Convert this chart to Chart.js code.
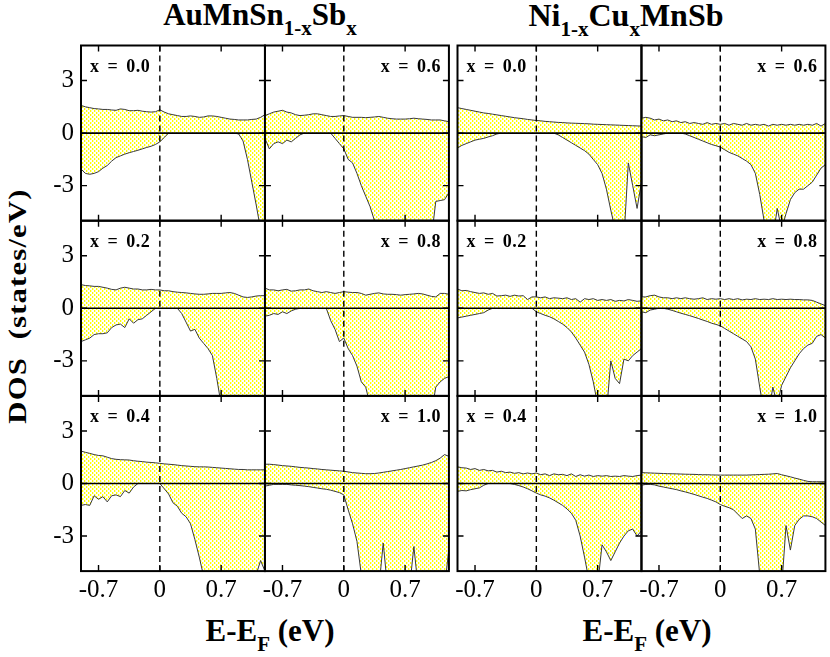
<!DOCTYPE html>
<html><head><meta charset="utf-8">
<script src="https://cdn.jsdelivr.net/npm/chart.js@4.4.0/dist/chart.umd.min.js"></script>
<style>
html,body{margin:0;padding:0;background:#fff;}
#wrap{position:relative;width:830px;height:657px;overflow:hidden;font-family:'Liberation Serif','Times New Roman',serif;color:#000;}
#wrap canvas{position:absolute;left:0;top:0;}
.t{position:absolute;font-weight:bold;white-space:nowrap;}
.title{font-size:31px;line-height:30px;width:400px;text-align:center;}
.title sub{font-size:21px;vertical-align:baseline;position:relative;top:10px;}
.big{font-size:32px;}
.lab{font-size:18px;line-height:18px;letter-spacing:0.5px;word-spacing:3px;}
.ytitle{font-size:26px;line-height:30px;width:300px;height:30px;text-align:center;letter-spacing:1px;transform:rotate(-90deg) scaleX(1.18);}
</style></head>
<body>
<div id="wrap">
  <div class="t title" style="left:60px;top:0px;">AuMnSn<sub>1-x</sub>Sb<sub>x</sub></div>
  <div class="t title big" style="left:426px;top:0px;">Ni<sub>1-x</sub>Cu<sub>x</sub>MnSb</div>
  <div class="t title" style="left:70px;top:616px;">E-E<sub>F</sub> (eV)</div>
  <div class="t title" style="left:447px;top:616px;">E-E<sub>F</sub> (eV)</div>
  <div class="t ytitle" style="left:-132px;top:291px;">DOS&nbsp;&nbsp;(states/eV)</div>
</div>
<script>
// ---- data ----
const energy = [-0.9,-0.85,-0.8,-0.75,-0.7,-0.65,-0.6,-0.55,-0.5,-0.45,-0.4,-0.35,-0.3,-0.25,-0.2,-0.15,-0.1,-0.05,0,0.05,0.1,0.15,0.2,0.25,0.3,0.35,0.4,0.45,0.5,0.55,0.6,0.65,0.7,0.75,0.8,0.85,0.9,0.95,1.0,1.05,1.1,1.15,1.2];
const xTickValues = [-0.7, 0, 0.7];
const xTickLabels = ['-0.7', '0', '0.7'];
const yTickValues = [-3, 0, 3];
const yTickLabels = ['-3', '0', '3'];
const panelLabels = ['x = 0.0','x = 0.2','x = 0.4','x = 0.6','x = 0.8','x = 1.0'];

// AuMnSn(1-x)Sb(x)
const au00Up = [1.58,1.5,1.45,1.4,1.38,1.35,1.35,1.32,1.3,1.38,1.35,1.28,1.28,1.3,1.25,1.22,1.2,1.22,1.33,1.2,1.1,1.05,1.0,0.95,0.95,0.98,0.95,0.9,0.92,0.98,0.98,0.95,0.9,0.85,0.8,0.78,0.75,0.75,0.75,0.78,0.8,0.9,1.05];
const au00Dn = [-2.05,-2.3,-2.35,-2.3,-2.2,-2.0,-1.85,-1.6,-1.4,-1.3,-1.2,-1.12,-1.05,-0.98,-0.9,-0.82,-0.75,-0.65,-0.5,-0.25,0,0,0,0,0,0,0,0,0,0,0,0,0,0,0,0,-0.05,-0.45,-1.5,-2.8,-4.1,-5.5,-6];
const au02Up = [1.35,1.3,1.28,1.25,1.25,1.2,1.15,1.08,1.05,1.15,1.2,1.15,1.1,1.1,1.05,1.05,1.08,1.05,1.05,1.0,1.0,0.95,0.92,0.9,0.88,0.85,0.82,0.8,0.8,0.82,0.85,0.85,0.85,0.88,0.9,0.85,0.75,0.65,0.62,0.65,0.7,0.72,0.72];
const au02Dn = [-1.9,-1.8,-1.7,-1.5,-1.45,-1.45,-1.4,-1.1,-0.95,-0.9,-1.1,-0.6,-0.85,-0.65,-0.6,-0.4,-0.2,0,0,0,0,0,0,-0.3,-0.8,-1.3,-1.2,-1.7,-2.0,-2.3,-2.7,-4.0,-5.5,-6,-6,-6,-6,-6,-6,-6,-6,-6,-6];
const au04Up = [1.85,1.78,1.72,1.65,1.6,1.58,1.5,1.42,1.38,1.36,1.35,1.34,1.3,1.27,1.25,1.22,1.2,1.18,1.15,1.12,1.1,1.08,1.05,1.02,1.0,0.98,0.96,0.95,0.95,0.94,0.92,0.9,0.88,0.86,0.84,0.82,0.8,0.8,0.78,0.78,0.78,0.78,0.78];
const au04Dn = [-1.25,-1.2,-1.25,-0.7,-0.9,-0.75,-1.05,-0.7,-0.65,-0.75,-0.4,-0.55,-0.2,0,0,0,0,0,0,-0.3,-0.6,-1.1,-1.3,-1.7,-1.9,-2.3,-3.2,-4.2,-5.3,-6,-6,-6,-6,-6,-6,-6,-6,-6,-6,-6,-5.2,-4.4,-5.0];
const au06Up = [1.0,1.1,1.2,1.25,1.3,1.2,1.15,1.05,1.0,1.02,1.05,1.1,1.1,1.05,1.0,0.95,0.95,0.98,1.0,0.95,0.9,0.9,0.9,0.88,0.9,0.92,0.95,0.9,0.85,0.82,0.8,0.8,0.8,0.82,0.85,0.82,0.8,0.78,0.75,0.75,0.75,0.7,0.65];
const au06Dn = [-0.3,-0.9,-0.6,-0.5,-0.6,-0.4,-0.5,-0.3,-0.1,0,0,0,0,0,0,0,-0.3,-0.6,-0.9,-1.5,-1.7,-2.3,-3.0,-3.6,-4.2,-5.0,-6,-6,-6,-6,-6,-6,-6,-6,-6,-6,-6,-6,-6,-3.9,-3.85,-3.8,-3.4];
const au08Up = [1.15,1.05,1.05,1.0,1.05,1.08,0.98,1.0,1.05,1.05,1.1,1.0,0.95,0.9,0.95,0.9,0.85,0.9,0.95,0.92,0.9,0.9,0.85,0.75,0.8,0.85,0.88,0.82,0.8,0.8,0.78,0.75,0.78,0.8,0.82,0.85,0.82,0.75,0.68,0.65,0.85,0.85,0.8];
const au08Dn = [-0.45,-0.4,-0.3,-0.35,-0.2,-0.3,-0.15,-0.05,0,0,0,0,0,0,0,-0.7,-1.2,-1.9,-1.7,-2.3,-2.7,-3.3,-4.2,-4.5,-5.5,-6,-6,-6,-6,-6,-6,-6,-6,-6,-6,-6,-6,-6,-6,-4.5,-4.2,-4.0,-3.9];
const au10Up = [1.1,1.1,1.08,1.05,1.02,1.0,0.98,0.95,0.92,0.9,0.88,0.85,0.83,0.8,0.78,0.76,0.74,0.72,0.7,0.66,0.62,0.6,0.58,0.56,0.56,0.57,0.6,0.64,0.68,0.72,0.76,0.8,0.85,0.9,0.95,1.0,1.05,1.12,1.2,1.3,1.45,1.65,1.55];
const au10Dn = [-0.15,-0.1,-0.05,-0.05,-0.05,-0.05,-0.08,-0.1,-0.12,-0.15,-0.18,-0.22,-0.26,-0.3,-0.33,-0.38,-0.45,-0.52,-0.65,-1.5,-2.3,-3.3,-5.2,-6,-6,-6,-6,-3.4,-6,-6,-6,-6,-6,-6,-3.6,-6,-6,-6,-6,-6,-6,-6,-3.7];

// Ni(1-x)Cu(x)MnSb
const ni00Up = [1.45,1.4,1.35,1.3,1.25,1.2,1.15,1.12,1.08,1.04,1.0,0.96,0.92,0.88,0.85,0.82,0.78,0.75,0.72,0.7,0.67,0.65,0.63,0.61,0.6,0.58,0.57,0.56,0.55,0.54,0.53,0.51,0.5,0.49,0.48,0.47,0.46,0.45,0.44,0.43,0.42,0.41,0.4];
const ni00Dn = [-0.85,-0.7,-0.6,-0.5,-0.4,-0.35,-0.3,-0.22,-0.15,-0.05,0,0,0,0,0,0,0,0,0,0,0,0,0,-0.1,-0.25,-0.4,-0.55,-0.7,-0.85,-1.0,-1.2,-1.5,-1.8,-2.3,-3.2,-4.4,-5.5,-6,-6,-1.7,-3.0,-4.3,-2.8];
const ni02Up = [1.1,1.0,1.02,0.95,0.9,0.85,0.88,0.8,0.85,0.7,0.72,0.75,0.68,0.75,0.7,0.72,0.5,0.65,0.65,0.6,0.65,0.55,0.6,0.58,0.55,0.6,0.5,0.55,0.35,0.55,0.5,0.55,0.45,0.5,0.45,0.5,0.4,0.45,0.42,0.5,0.45,0.4,0.42];
const ni02Dn = [-0.55,-0.5,-0.45,-0.4,-0.35,-0.3,-0.25,-0.1,0,0,0,0,0,0,0,0,0,0,-0.2,-0.3,-0.4,-0.48,-0.6,-0.75,-0.9,-1.1,-1.35,-1.7,-2.1,-2.5,-3.2,-4.2,-5.5,-6,-6,-3.0,-4.0,-4.3,-2.9,-3.0,-2.7,-2.5,-2.3];
const ni04Up = [0.95,0.9,0.88,0.8,0.85,0.75,0.8,0.72,0.75,0.65,0.7,0.62,0.65,0.58,0.62,0.55,0.6,0.55,0.6,0.5,0.55,0.45,0.55,0.5,0.52,0.45,0.55,0.4,0.5,0.42,0.48,0.4,0.45,0.42,0.45,0.4,0.42,0.4,0.45,0.42,0.4,0.45,0.48];
const ni04Dn = [-0.45,-0.4,-0.42,-0.35,-0.3,-0.25,-0.1,0,0,0,0,0,0,-0.05,-0.12,-0.2,-0.3,-0.42,-0.55,-0.65,-0.72,-0.82,-0.95,-1.1,-1.25,-1.45,-1.7,-2.1,-3.0,-4.2,-5.5,-6,-5.8,-3.5,-3.9,-4.4,-3.9,-3.4,-3.0,-2.7,-2.6,-3.0,-2.7];
const ni06Up = [0.85,0.9,0.85,0.75,0.8,0.7,0.75,0.65,0.7,0.6,0.65,0.55,0.6,0.55,0.5,0.6,0.5,0.55,0.5,0.55,0.45,0.55,0.5,0.45,0.55,0.45,0.5,0.45,0.5,0.4,0.5,0.45,0.5,0.45,0.5,0.45,0.5,0.45,0.5,0.45,0.55,0.4,0.55];
const ni06Dn = [-0.2,-0.25,-0.1,-0.15,-0.1,-0.05,0,0,0,0,-0.05,-0.15,-0.25,-0.35,-0.45,-0.55,-0.65,-0.72,-0.8,-0.95,-1.1,-1.2,-1.3,-1.45,-1.6,-1.8,-2.3,-3.5,-5.0,-6,-6,-4.3,-5.5,-4.6,-3.8,-3.4,-3.2,-3.2,-3.0,-2.8,-2.4,-2.0,-1.8];
const ni08Up = [0.65,0.65,0.72,0.75,0.65,0.6,0.6,0.55,0.6,0.55,0.6,0.55,0.52,0.55,0.6,0.5,0.55,0.52,0.55,0.5,0.55,0.5,0.55,0.48,0.52,0.5,0.55,0.5,0.52,0.5,0.55,0.5,0.52,0.5,0.52,0.5,0.5,0.48,0.48,0.45,0.35,0.25,0.15];
const ni08Dn = [-0.2,-0.25,-0.1,-0.05,0,0,-0.05,-0.12,-0.2,-0.28,-0.35,-0.42,-0.5,-0.58,-0.67,-0.75,-0.85,-0.92,-1.0,-1.15,-1.3,-1.45,-1.6,-1.75,-1.9,-2.2,-2.9,-4.5,-6,-6,-4.5,-5.5,-4.4,-3.9,-3.4,-3.0,-2.6,-2.3,-2.1,-2.0,-1.6,-1.5,-1.7];
const ni10Up = [0.62,0.61,0.6,0.59,0.58,0.57,0.56,0.555,0.55,0.54,0.53,0.525,0.52,0.51,0.5,0.5,0.49,0.485,0.48,0.48,0.48,0.48,0.48,0.48,0.48,0.49,0.5,0.51,0.52,0.53,0.55,0.57,0.5,0.44,0.38,0.31,0.25,0.18,0.12,0.1,0.1,0.1,0.1];
const ni10Dn = [-0.1,-0.05,-0.05,-0.08,-0.15,-0.2,-0.25,-0.3,-0.35,-0.42,-0.48,-0.55,-0.62,-0.7,-0.78,-0.85,-0.95,-1.05,-1.2,-1.3,-1.38,-1.5,-1.75,-2.0,-1.85,-2.0,-2.6,-5.2,-6,-6,-6,-6,-6,-2.4,-3.8,-2.4,-2.05,-1.85,-1.85,-1.9,-2.0,-2.2,-2.4];

// ---- layout (pixels) ----
const PAGE_W = 830, PAGE_H = 657;
const groupLeft = [81, 457.5];
const colW = 183.96;
const rowTop = [45.5, 220.7, 395.9];
const rowH = 175.2;
const Y_AXIS_W = 70, X_AXIS_H = 45;

const panels = [
  {g:0, r:0, c:0, label:panelLabels[0], up:au00Up, dn:au00Dn},
  {g:0, r:1, c:0, label:panelLabels[1], up:au02Up, dn:au02Dn},
  {g:0, r:2, c:0, label:panelLabels[2], up:au04Up, dn:au04Dn},
  {g:0, r:0, c:1, label:panelLabels[3], up:au06Up, dn:au06Dn},
  {g:0, r:1, c:1, label:panelLabels[4], up:au08Up, dn:au08Dn},
  {g:0, r:2, c:1, label:panelLabels[5], up:au10Up, dn:au10Dn},
  {g:1, r:0, c:0, label:panelLabels[0], up:ni00Up, dn:ni00Dn},
  {g:1, r:1, c:0, label:panelLabels[1], up:ni02Up, dn:ni02Dn},
  {g:1, r:2, c:0, label:panelLabels[2], up:ni04Up, dn:ni04Dn},
  {g:1, r:0, c:1, label:panelLabels[3], up:ni06Up, dn:ni06Dn},
  {g:1, r:1, c:1, label:panelLabels[4], up:ni08Up, dn:ni08Dn},
  {g:1, r:2, c:1, label:panelLabels[5], up:ni10Up, dn:ni10Dn}
];

function makePattern(ctx){
  const c = document.createElement('canvas');
  c.width = 4; c.height = 4;
  const g = c.getContext('2d');
  g.fillStyle = '#ffffff'; g.fillRect(0,0,4,4);
  g.fillStyle = '#ffff00';
  g.fillRect(0,0,1,2); g.fillRect(2,2,1,2);
  g.fillStyle = '#ffffb0';
  g.fillRect(1,0,1,2); g.fillRect(3,2,1,2);
  return ctx.createPattern(c, 'repeat');
}

const framePlugin = {
  id: 'frame',
  afterDatasetsDraw(chart){
    const {ctx, chartArea:a, scales:{x, y}} = chart;
    ctx.save();
    ctx.strokeStyle = '#000';
    const x0 = x.getPixelForValue(0);
    ctx.lineWidth = 1.4;
    ctx.setLineDash([6,4]);
    ctx.beginPath(); ctx.moveTo(x0, a.top); ctx.lineTo(x0, a.bottom); ctx.stroke();
    ctx.setLineDash([]);
    const y0 = y.getPixelForValue(0);
    ctx.lineWidth = 1.6;
    ctx.beginPath(); ctx.moveTo(a.left, y0); ctx.lineTo(a.right, y0); ctx.stroke();
    ctx.lineWidth = 1.4;
    ctx.beginPath();
    xTickValues.forEach(v => {
      const p = x.getPixelForValue(v);
      ctx.moveTo(p, a.top); ctx.lineTo(p, a.top + 6);
      ctx.moveTo(p, a.bottom); ctx.lineTo(p, a.bottom - 6);
    });
    yTickValues.forEach(v => {
      const p = y.getPixelForValue(v);
      ctx.moveTo(a.left, p); ctx.lineTo(a.left + 6, p);
      ctx.moveTo(a.right, p); ctx.lineTo(a.right - 6, p);
    });
    ctx.stroke();
    ctx.lineWidth = 2;
    ctx.strokeRect(a.left, a.top, a.right - a.left, a.bottom - a.top);
    ctx.restore();
  }
};

const wrap = document.getElementById('wrap');
const tickFont = {family:"'Liberation Serif', 'Times New Roman', serif", size:25};

panels.forEach(p => {
  const left = groupLeft[p.g] + p.c * colW;
  const top = rowTop[p.r];
  const showX = p.r === 2;
  const showY = p.g === 0 && p.c === 0;
  const yw = showY ? Y_AXIS_W : 0;
  const xh = showX ? X_AXIS_H : 0;
  const canvas = document.createElement('canvas');
  canvas.width = PAGE_W; canvas.height = PAGE_H;
  canvas.style.width = PAGE_W + 'px'; canvas.style.height = PAGE_H + 'px';
  wrap.appendChild(canvas);
  const ctx = canvas.getContext('2d');
  const pat = makePattern(ctx);
  const mk = vals => energy.map((e,i) => ({x:e, y:vals[i]}));
  const ds = vals => ({data: mk(vals), borderColor:'#3a3a3a', borderWidth:1, backgroundColor:pat,
      fill:'origin', pointRadius:0, tension:0});
  new Chart(ctx, {
    type: 'line',
    data: {datasets: [ds(p.up), ds(p.dn)]},
    options: {
      responsive:false, maintainAspectRatio:false, animation:false,
      events: [],
      layout: {autoPadding:false, padding:{left:left - yw, top:top, right:PAGE_W - left - colW, bottom:PAGE_H - top - rowH - xh}},
      plugins: {legend:{display:false}, tooltip:{enabled:false}, title:{display:false}},
      scales: {
        x: {type:'linear', min:-0.9, max:1.2,
            afterBuildTicks: s => { s.ticks = xTickValues.map(v => ({value:v})); },
            afterFit: s => { s.height = xh; },
            grid:{display:false, drawTicks:false}, border:{display:false},
            ticks:{display:showX, autoSkip:false, maxRotation:0, minRotation:0, padding:4, color:'#000', font:tickFont,
                   callback:(v, i) => xTickLabels[i]}},
        y: {type:'linear', min:-5, max:5,
            afterBuildTicks: s => { s.ticks = yTickValues.map(v => ({value:v})); },
            afterFit: s => { s.width = yw; },
            grid:{display:false, drawTicks:false}, border:{display:false},
            ticks:{display:showY, autoSkip:false, padding:7, color:'#000', font:tickFont,
                   callback:(v, i) => yTickLabels[i]}}
      }
    },
    plugins: [framePlugin]
  });
  const lab = document.createElement('div');
  lab.className = 't lab';
  lab.textContent = p.label;
  lab.style.top = (top + 11) + 'px';
  if (p.c === 0) { lab.style.left = (left + 9) + 'px'; }
  else { lab.style.right = (PAGE_W - (left + colW) + 8) + 'px'; }
  wrap.appendChild(lab);
});
</script>
</body></html>
